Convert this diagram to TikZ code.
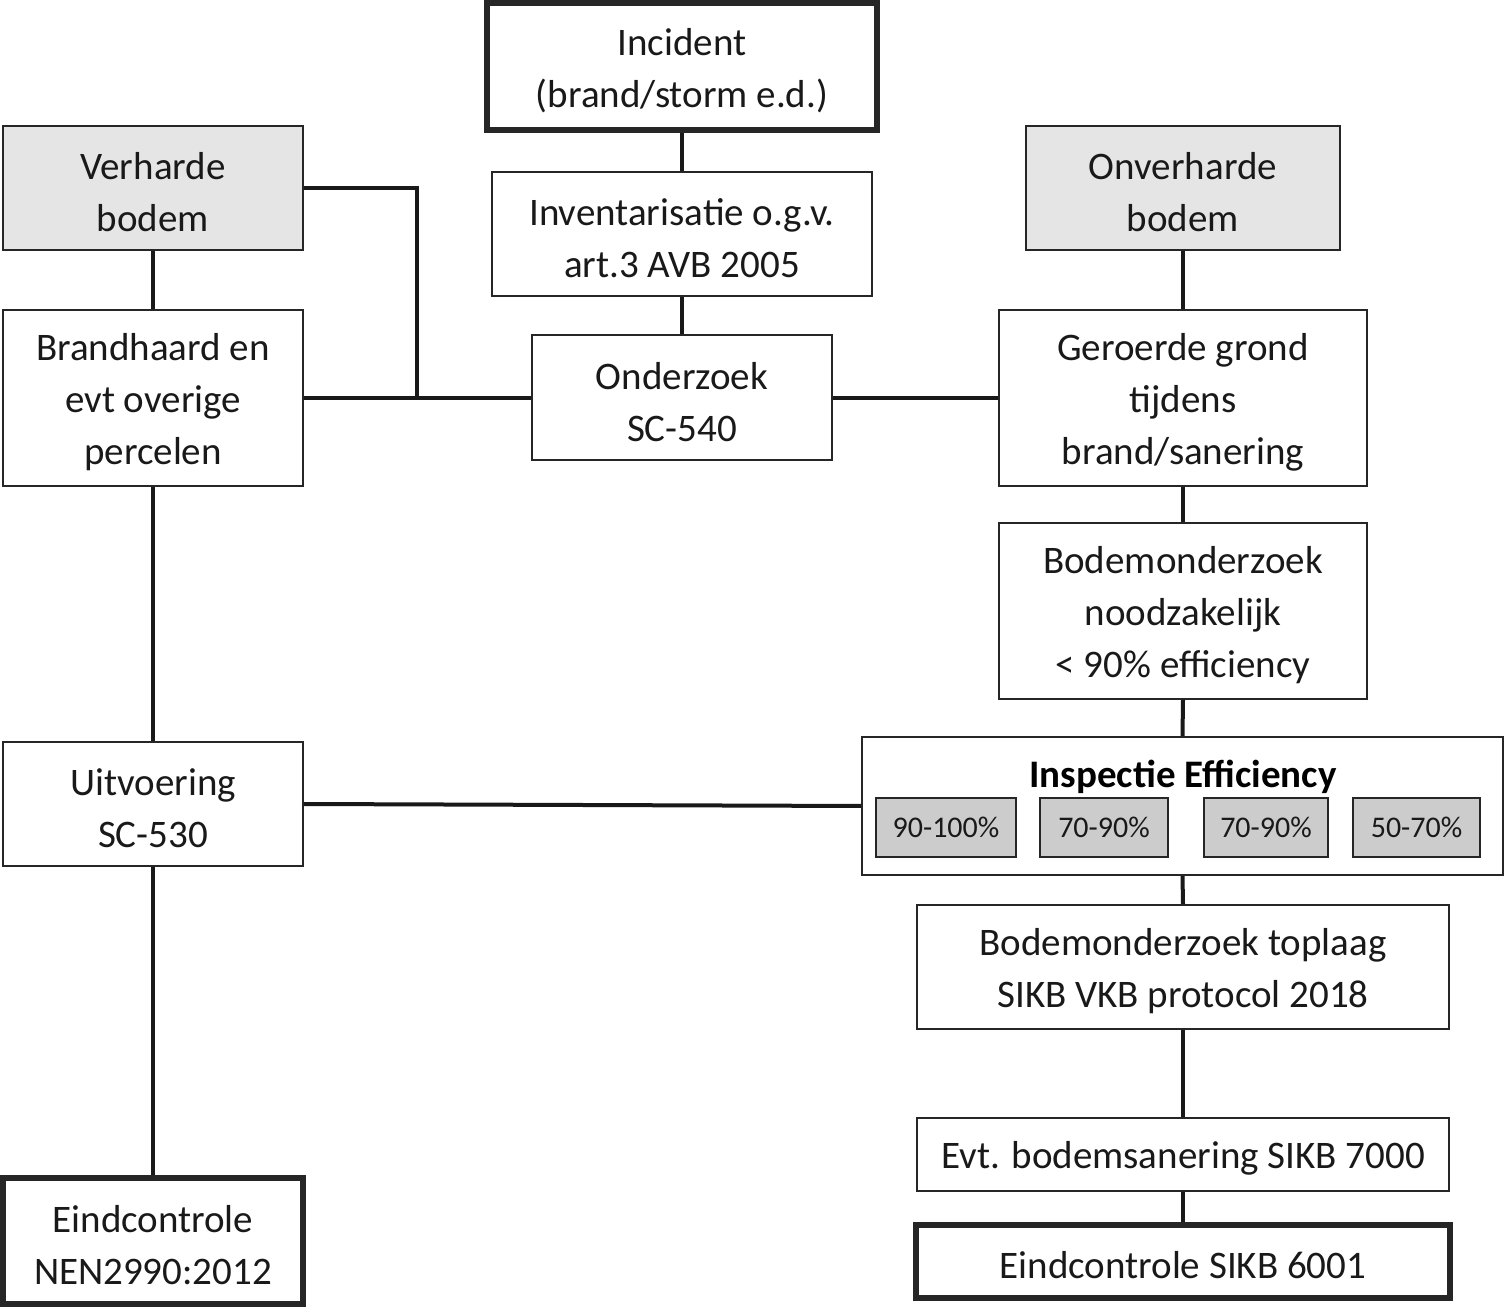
\documentclass[tikz,border=0pt]{standalone}
\usepackage{fontspec}
\setmainfont{Carlito}
\begin{document}
\begin{tikzpicture}[x=0.5pt,y=-0.5pt,
  lbl/.style={align=center, inner sep=0pt, font=\fontsize{19.5}{26}\selectfont,
    text=black!90, yshift=-2pt},
  box/.style={draw=black!85, line width=1pt, fill=white, inner sep=0pt},
  graybox/.style={box, fill=black!10},
  thickbox/.style={box, line width=2.6pt},
  pctbox/.style={draw=black!85, line width=1.3pt, fill=black!20, inner sep=0pt,
    minimum height=29.5pt, font=\fontsize{15}{18}\selectfont, text=black!90},
  conn/.style={line width=2pt, black!90}]
\useasboundingbox (0,0) rectangle (1505,1309);

% left column
\node[graybox, minimum width=150pt, minimum height=62pt,
  label={[lbl]center:{Verharde\\bodem}}] (verh) at (153,188) {};
\node[box, minimum width=150pt, minimum height=88pt,
  label={[lbl]center:{Brandhaard en\\evt overige\\percelen}}] (brand) at (153,398) {};
\node[box, minimum width=150pt, minimum height=62pt,
  label={[lbl]center:{Uitvoering\\SC-530}}] (uitv) at (153,804) {};
\node[thickbox, minimum width=150pt, minimum height=63pt,
  label={[lbl]center:{Eindcontrole\\NEN2990:2012}}] (eindl) at (153,1241) {};

% middle column
\node[thickbox, minimum width=195pt, minimum height=63.5pt,
  label={[lbl]center:{Incident\\(brand/storm e.d.)}}] (inc) at (682,66.5) {};
\node[box, minimum width=190pt, minimum height=62pt,
  label={[lbl]center:{Inventarisatie o.g.v.\\art.3 AVB 2005}}] (inv) at (682,234) {};
\node[box, minimum width=150pt, minimum height=62.5pt,
  label={[lbl]center:{Onderzoek\\SC-540}}] (ond) at (682,398) {};

% right column
\node[graybox, minimum width=157pt, minimum height=62pt,
  label={[lbl]center:{Onverharde\\bodem}}] (onv) at (1183,188) {};
\node[box, minimum width=184pt, minimum height=88pt,
  label={[lbl]center:{Geroerde grond\\tijdens\\brand/sanering}}] (ger) at (1183,398) {};
\node[box, minimum width=184pt, minimum height=88pt,
  label={[lbl]center:{Bodemonderzoek\\noodzakelijk\\< 90\% efficiency}}] (nood) at (1183,611) {};
\node[box, minimum width=320.5pt, minimum height=69pt] (insp) at (1182.5,806) {};
\node[font=\fontsize{19.5}{24}\selectfont\bfseries, text=black, inner sep=0pt] (insptitle) at (1183,777) {Inspectie Efficiency};
\node[pctbox, minimum width=70pt] (p1) at (946,827.5) {90-100\%};
\node[pctbox, minimum width=64pt] (p2) at (1104,827.5) {70-90\%};
\node[pctbox, minimum width=62pt] (p3) at (1266,827.5) {70-90\%};
\node[pctbox, minimum width=63.5pt] (p4) at (1416.5,827.5) {50-70\%};
\node[box, minimum width=266pt, minimum height=62pt,
  label={[lbl]center:{Bodemonderzoek toplaag\\SIKB VKB protocol 2018}}] (top) at (1183,967) {};
\node[box, minimum width=266pt, minimum height=36.5pt,
  label={[lbl]center:{Evt. bodemsanering SIKB 7000}}] (san) at (1183,1154.5) {};
\node[thickbox, minimum width=267pt, minimum height=36.5pt,
  label={[lbl]center:{Eindcontrole SIKB 6001}}] (eindr) at (1183,1261.5) {};

\coordinate (j) at (417,398);

% connectors
\draw[conn] (inc.south) -- (inv.north);
\draw[conn] (inv.south) -- (ond.north);
\draw[conn] (verh.south) -- (brand.north);
\draw[conn] (verh.east) -| (j);
\draw[conn] (brand.east) -- (ond.west);
\draw[conn] (ond.east) -- (ger.west);
\draw[conn] (onv.south) -- (ger.north);
\draw[conn] (ger.south) -- (nood.north);
\draw[conn] (nood.south) -- (insp.north);
\draw[conn] (brand.south) -- (uitv.north);
\draw[conn] (uitv.east) -- (insp.west);
\draw[conn] (insp.south) -- (top.north);
\draw[conn] (top.south) -- (san.north);
\draw[conn] (san.south) -- (eindr.north);
\draw[conn] (uitv.south) -- (eindl.north);
\end{tikzpicture}
\end{document}
